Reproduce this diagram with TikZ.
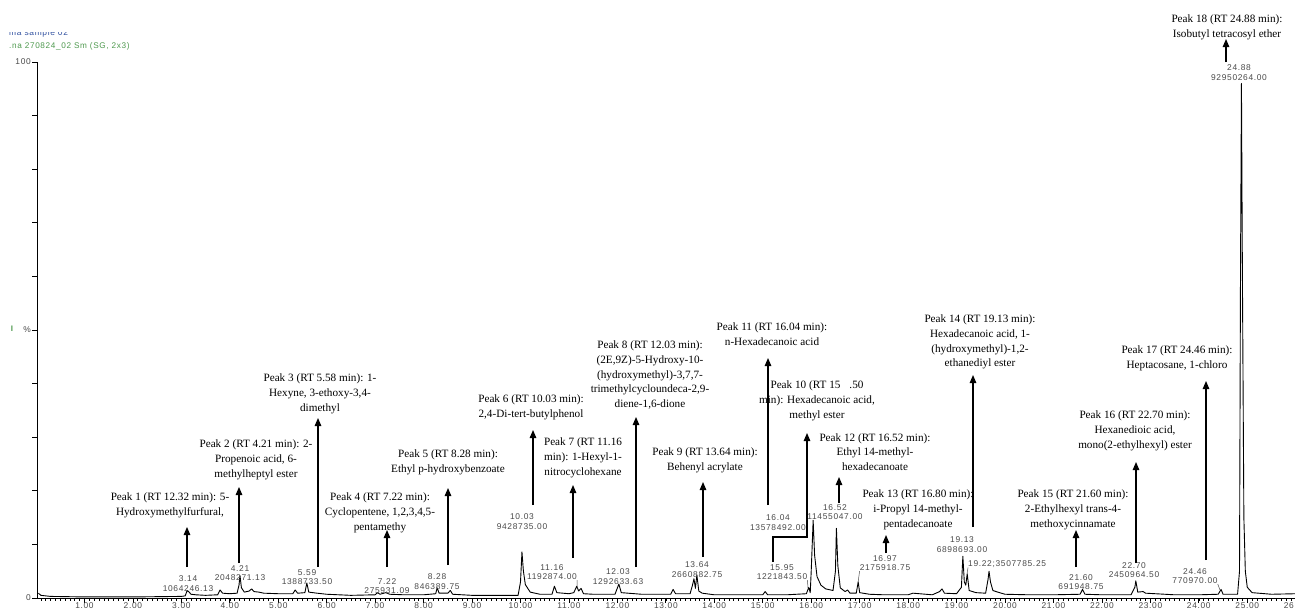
\documentclass[tikz,border=0pt]{standalone}
\usepackage{fontspec}
\setmainfont{Liberation Serif}
\newfontfamily\lblfont[LetterSpace=8]{Liberation Sans}
\usetikzlibrary{arrows.meta}
\definecolor{lblgray}{HTML}{4A4A4A}
\definecolor{hdrgreen}{HTML}{4F9A4F}
\definecolor{hdrblue}{HTML}{2F4F9F}
\begin{document}
\begin{tikzpicture}[x=1pt,y=-1pt,
  peaklbl/.style={font=\fontsize{11.2}{14.75}\selectfont, align=center, inner sep=0pt, text=black},
  datalbl/.style={font=\lblfont\fontsize{8.4}{9.8}\selectfont, align=center, inner sep=0pt, text=lblgray},
  axlbl/.style={font=\lblfont\fontsize{8.4}{9}\selectfont, inner sep=0pt, text=lblgray},
  peakarrow/.style={draw=black, line width=1.1pt, -{Triangle[width=6.5pt,length=8pt]}},
  leader/.style={draw=lblgray, line width=0.5pt},
  trace/.style={draw=black, line width=0.9pt, line join=round},
  axisline/.style={draw=black, line width=1pt}]
\useasboundingbox (0,0) rectangle (1295,611);
\fill[white] (0,0) rectangle (1295,611);

% header
\begin{scope}
  \clip (0,32) rectangle (140,40);
  \node[font=\lblfont\fontsize{8.4}{9}\selectfont, text=hdrblue, anchor=west, inner sep=0pt] (hdrb) at (9,33) {ma sample 02};
\end{scope}
\node[font=\lblfont\fontsize{8.2}{9}\selectfont, text=hdrgreen, anchor=west, inner sep=0pt] (hdrg) at (9,46) {.na 270824\_02 Sm (SG, 2x3)};

% axes
\draw[axisline] (37,62) -- (37,598) -- (1295,598);
\foreach \k in {0,...,10} \draw[line width=0.8pt] (32,{62+53.6*\k}) -- (37,{62+53.6*\k});
\foreach \i in {1,...,268} \draw[line width=0.6pt] ({36+4.845*\i},598) -- ++(0,3);
\foreach \i in {1,...,26} {
  \draw[line width=0.8pt] ({36+48.45*\i},598) -- ++(0,5);
  \node[axlbl] (xl\i) at ({36+48.45*\i},606) {\i.00};
}
\node[axlbl, anchor=east] (y100) at (31,62) {100};
\node[axlbl, anchor=east] (ypct) at (31,330) {\%};
\node[axlbl, anchor=east] (yzero) at (31,598) {0};
\node[font=\lblfont\bfseries\fontsize{8}{9}\selectfont, text=hdrgreen, inner sep=0pt] (ymark) at (12,329) {I};

% chromatogram
\begin{scope}[shift={(36,598)}, x=48.45pt, y=5.36pt]
\draw[trace] plot coordinates {
(0.05,0.9) (0.1,0.5) (0.3,0.3) (1.0,0.2) (2.0,0.2) (3.0,0.3) (3.08,0.4) (3.12,1.4) (3.16,1.1) (3.2,0.7) (3.3,0.6) (3.5,0.5) (3.75,0.6) (3.8,1.5) (3.85,0.9) (4.0,0.8) (4.15,0.9) (4.19,2.4) (4.21,4.2) (4.24,1.9) (4.3,1.1) (4.4,1.3) (4.45,1.7) (4.5,1.2) (4.6,1.1) (4.7,0.9) (5.0,0.8) (5.3,0.8) (5.35,1.5) (5.4,0.9) (5.55,1.0) (5.59,2.8) (5.63,1.1) (5.8,0.9) (6.0,0.7) (6.5,0.5) (7.0,0.6) (7.05,1.0) (7.1,0.7) (7.22,1.0) (7.3,0.7) (7.6,0.6) (8.0,0.6) (8.25,0.8) (8.28,1.9) (8.32,0.9) (8.5,0.9) (8.55,1.4) (8.6,0.7) (9.0,0.5) (9.5,0.5) (9.95,0.5) (10.0,3) (10.03,8.6) (10.06,5) (10.1,2.5) (10.2,1.1) (10.4,0.7) (10.65,0.7) (10.7,2.2) (10.75,1.0) (11.0,0.8) (11.1,1.0) (11.16,2.2) (11.2,1.3) (11.25,1.8) (11.3,0.8) (11.5,0.7) (11.95,0.7) (12.03,2.6) (12.08,1.0) (12.5,0.7) (13.1,0.7) (13.15,1.6) (13.2,0.8) (13.5,0.8) (13.55,2.4) (13.58,3.6) (13.61,1.8) (13.64,4.3) (13.68,1.3) (13.75,0.9) (14.0,0.6) (14.5,0.6) (15.0,0.6) (15.05,1.2) (15.1,0.6) (15.5,0.6) (15.9,0.8) (15.95,2.0) (15.98,1.0) (16.0,5) (16.04,14.5) (16.07,8) (16.12,4) (16.2,2.4) (16.3,1.7) (16.45,1.4) (16.5,5) (16.52,13) (16.55,6) (16.6,1.9) (16.7,1.2) (16.75,1.5) (16.8,0.9) (16.93,0.9) (16.97,3.0) (17.0,1.0) (17.2,0.7) (17.5,0.6) (18.0,0.6) (18.1,0.9) (18.5,0.6) (18.65,1.2) (18.7,1.7) (18.75,0.9) (19.0,0.8) (19.1,2) (19.13,7.8) (19.16,3) (19.19,2.4) (19.22,4.5) (19.26,1.4) (19.4,1.0) (19.6,0.9) (19.65,3.5) (19.67,5.0) (19.7,3) (19.75,1.4) (19.85,1.1) (20.0,0.7) (20.5,0.6) (21.0,0.6) (21.55,0.7) (21.6,1.6) (21.65,0.7) (22.0,0.6) (22.6,0.6) (22.68,2) (22.7,3.2) (22.74,1.1) (22.85,1.2) (22.9,0.9) (23.1,0.8) (23.5,0.6) (24.0,0.6) (24.4,0.7) (24.46,1.6) (24.5,0.7) (24.8,0.7) (24.84,5) (24.86,60) (24.88,96) (24.9,60) (24.93,15) (24.96,5) (25.0,2) (25.1,1.0) (25.5,0.7) (26.0,0.8) (26.1,1.4) (26.3,0.6)};
\end{scope}

% data labels
\node[datalbl] (d314) at (188,583.5) {3.14\\1064246.13};
\node[datalbl] (d421) at (240,573) {4.21\\2048271.13};
\node[datalbl] (d559) at (307,577) {5.59\\1388733.50};
\node[datalbl] (d722) at (387,586) {7.22\\275931.09};
\node[datalbl] (d828) at (437,581.5) {8.28\\846389.75};
\node[datalbl] (d1003) at (522,521.5) {10.03\\9428735.00};
\node[datalbl] (d1116) at (552,572) {11.16\\1192874.00};
\node[datalbl] (d1203) at (618,576.5) {12.03\\1292633.63};
\node[datalbl] (d1364) at (697,569.5) {13.64\\2660882.75};
\node[datalbl] (d1595) at (782,572) {15.95\\1221843.50};
\node[datalbl] (d1604) at (778,522.5) {16.04\\13578492.00};
\node[datalbl] (d1652) at (835,512) {16.52\\11455047.00};
\node[datalbl] (d1697) at (885,563) {16.97\\2175918.75};
\node[datalbl] (d1913) at (962,544.5) {19.13\\6898693.00};
\node[datalbl, anchor=west] (d1922) at (968,564) {19.22;3507785.25};
\node[datalbl] (d2160) at (1081,582) {21.60\\691948.75};
\node[datalbl] (d2270) at (1134,570) {22.70\\2450964.50};
\node[datalbl] (d2446) at (1195,576) {24.46\\770970.00};
\node[datalbl] (d2488) at (1239,73) {24.88\\92950264.00};

% leaders
\coordinate (k1116) at (577,589);
\coordinate (k1595) at (808,588);
\coordinate (k1697) at (858,583);
\coordinate (k1922) at (967,574);
\coordinate (k2446) at (1220,590);
\draw[leader] (d1116.south east) -- (k1116);
\draw[leader] (d1595.south east) -- (k1595);
\draw[leader] (d1697.south west) -- (k1697);
\draw[leader] (d1922.south west) -- (k1922);
\draw[leader] (d2446.south east) -- (k2446);

% peak labels
\node[peaklbl] (t1) at (170,505.5) {Peak 1 (RT 12.32 min): 5-\\Hydroxymethylfurfural,};
\node[peaklbl] (t2) at (256,460) {Peak 2 (RT 4.21 min): 2-\\Propenoic acid, 6-\\methylheptyl ester};
\node[peaklbl] (t3) at (320,394) {Peak 3 (RT 5.58 min): 1-\\Hexyne, 3-ethoxy-3,4-\\dimethyl};
\node[peaklbl] (t4) at (380,513) {Peak 4 (RT 7.22 min):\\Cyclopentene, 1,2,3,4,5-\\pentamethy};
\node[peaklbl] (t5) at (448,462) {Peak 5 (RT 8.28 min):\\Ethyl p-hydroxybenzoate};
\node[peaklbl] (t6) at (531,407) {Peak 6 (RT 10.03 min):\\2,4-Di-tert-butylphenol};
\node[peaklbl] (t7) at (583,458) {Peak 7 (RT 11.16\\min): 1-Hexyl-1-\\nitrocyclohexane};
\node[peaklbl] (t8) at (650,375) {Peak 8 (RT 12.03 min):\\(2E,9Z)-5-Hydroxy-10-\\(hydroxymethyl)-3,7,7-\\trimethylcycloundeca-2,9-\\diene-1,6-dione};
\node[peaklbl] (t9) at (705,460) {Peak 9 (RT 13.64 min):\\Behenyl acrylate};
\node[peaklbl] (t10) at (817,401) {Peak 10 (RT 15\hspace{9pt}.50\\min): Hexadecanoic acid,\\methyl ester};
\node[peaklbl] (t11) at (772,334) {Peak 11 (RT 16.04 min):\\n-Hexadecanoic acid};
\node[peaklbl] (t12) at (875,452) {Peak 12 (RT 16.52 min):\\Ethyl 14-methyl-\\hexadecanoate};
\node[peaklbl] (t13) at (918,510) {Peak 13 (RT 16.80 min):\\i-Propyl 14-methyl-\\pentadecanoate};
\node[peaklbl] (t14) at (980,342) {Peak 14 (RT 19.13 min):\\Hexadecanoic acid, 1-\\(hydroxymethyl)-1,2-\\ethanediyl ester};
\node[peaklbl] (t15) at (1073,510) {Peak 15 (RT 21.60 min):\\2-Ethylhexyl trans-4-\\methoxycinnamate};
\node[peaklbl] (t16) at (1135,431) {Peak 16 (RT 22.70 min):\\Hexanedioic acid,\\mono(2-ethylhexyl) ester};
\node[peaklbl] (t17) at (1177,358) {Peak 17 (RT 24.46 min):\\Heptacosane, 1-chloro};
\node[peaklbl] (t18) at (1227,27.5) {Peak 18 (RT 24.88 min):\\Isobutyl tetracosyl ether};

% arrow ends
\coordinate (a1) at (187,567);  \coordinate (h1) at (187,527);
\coordinate (a2) at (239,563);  \coordinate (h2) at (239,487);
\coordinate (a3) at (318,567);  \coordinate (h3) at (318,418);
\coordinate (a4) at (387,567);  \coordinate (h4) at (387,530);
\coordinate (a5) at (448,565);  \coordinate (h5) at (448,488);
\coordinate (a6) at (533,505);  \coordinate (h6) at (533,430);
\coordinate (a7) at (573,558);  \coordinate (h7) at (573,485);
\coordinate (a8) at (636,567);  \coordinate (h8) at (636,417);
\coordinate (a9) at (703,557);  \coordinate (h9) at (703,482);
\coordinate (a10) at (773,562); \coordinate (b10) at (773,537); \coordinate (c10) at (807,537); \coordinate (h10) at (807,433);
\coordinate (a11) at (768,505); \coordinate (h11) at (768,358);
\coordinate (a12) at (839,503); \coordinate (h12) at (839,477);
\coordinate (a13) at (886,553); \coordinate (h13) at (886,535);
\coordinate (a14) at (973,527); \coordinate (h14) at (973,375);
\coordinate (a15) at (1076,567); \coordinate (h15) at (1076,530);
\coordinate (a16) at (1136,563); \coordinate (h16) at (1136,462);
\coordinate (a17) at (1206,560); \coordinate (h17) at (1206,381);
\coordinate (a18) at (1226,62);  \coordinate (h18) at (1226,39);

\foreach \n in {1,...,9,11,12,13,14,15,16,17,18} \draw[peakarrow] (a\n) -- (h\n);
\draw[peakarrow] (a10) -- (b10) -- (c10) -- (h10);
\end{tikzpicture}
\end{document}
